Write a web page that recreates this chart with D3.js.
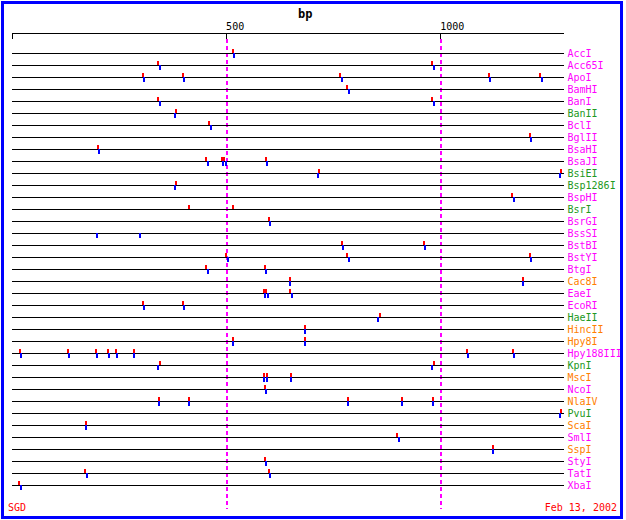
<!DOCTYPE html>
<html>
<head>
<meta charset="utf-8">
<script src="https://cdn.jsdelivr.net/npm/d3@7"></script>
<style>
  html, body { margin: 0; padding: 0; background: #fff; }
  svg { display: block; }
  text { font-family: "DejaVu Sans Mono", "Liberation Mono", monospace; }
</style>
</head>
<body>
<svg id="chart" width="626" height="520"></svg>
<script>
// ---- data ----
const seqLength = 1289;
const axisTicks = [500, 1000];
const axisTitle = "bp";
const footLeft = "SGD";
const footRight = "Feb 13, 2002";

const enzymes = ["AccI","Acc65I","ApoI","BamHI","BanI","BanII","BclI","BglII","BsaHI","BsaJI",
  "BsiEI","Bsp1286I","BspHI","BsrI","BsrGI","BssSI","BstBI","BstYI","BtgI","Cac8I",
  "EaeI","EcoRI","HaeII","HincII","Hpy8I","Hpy188III","KpnI","MscI","NcoI","NlaIV",
  "PvuI","ScaI","SmlI","SspI","StyI","TatI","XbaI"];

// end type produced by each enzyme (label colour category)
const endTypes = ["5'","5'","5'","5'","5'","3'","5'","5'","5'","5'",
  "3'","3'","5'","3'","5'","5'","5'","5'","5'","blunt",
  "5'","5'","3'","blunt","blunt","5'","3'","blunt","5'","blunt",
  "3'","blunt","5'","blunt","5'","5'","5'"];

// cut positions per enzyme: [top-strand cut, bottom-strand cut] in bp
const cuts = [
  [[515,517]],
  [[340,344],[980,984]],
  [[305,307],[398,400],[765,770],[1113,1115],[1232,1237]],
  [[781,786]],
  [[340,344],[980,984]],
  [[382,380]],
  [[459,463]],
  [[1209,1211]],
  [[200,202]],
  [[452,457],[489,491],[494,498],[592,594]],
  [[716,713],[1281,1279]],
  [[382,380]],
  [[1167,1171]],
  [[412,null],[515,null]],
  [[599,601]],
  [[null,197],[null,298]],
  [[770,772],[961,963]],
  [[498,503],[781,786],[1209,1211]],
  [[452,457],[590,592]],
  [[648,648],[1192,1192]],
  [[587,590],[592,597],[648,653]],
  [[305,307],[398,400]],
  [[858,854]],
  [[683,683]],
  [[515,515],[683,683]],
  [[18,20],[130,132],[195,197],[223,225],[242,244],[284,284],[1062,1064],[1169,1171]],
  [[344,340],[984,980]],
  [[587,587],[594,594],[650,650]],
  [[590,592]],
  [[342,342],[412,412],[784,784],[910,910],[982,982]],
  [[1281,1279]],
  [[172,172]],
  [[898,903]],
  [[1122,1122]],
  [[590,592]],
  [[169,174],[599,601]],
  [[15,20]]
];

// ---- drawing ----
const svg = d3.select("#chart");
const W = 626, H = 520;

svg.append("rect").attr("x",0).attr("y",0).attr("width",W).attr("height",H).attr("fill","#fff");

const x = d3.scaleLinear().domain([0, seqLength]).range([12, 564]);
const y = d3.scalePoint().domain(enzymes).range([53, 485]);
const colour = d3.scaleOrdinal().domain(["5'","3'","blunt"]).range(["#ff00ff","#229922","#ff8000"]);

// dashed guide lines
svg.append("g").selectAll("line").data(axisTicks).join("line")
  .attr("x1", d => Math.floor(x(d)) + 1).attr("x2", d => Math.floor(x(d)) + 1)
  .attr("y1", 39).attr("y2", 509)
  .attr("stroke", "#ff00ff").attr("stroke-width", 2)
  .attr("stroke-dasharray", "4,3");

// axis
const axis = d3.axisBottom(x)
  .tickValues([1].concat(axisTicks))
  .tickFormat(d => d === 1 ? "" : d)
  .tickSize(6).tickSizeOuter(0);
const ag = svg.append("g").attr("transform", "translate(0,33)").call(axis);
ag.select(".domain").attr("stroke", "#000").attr("shape-rendering", "crispEdges")
  .attr("d", `M${x(1)+0.5},0.5H${x(seqLength)}`);
ag.selectAll(".tick line").attr("stroke", "#000").attr("shape-rendering", "crispEdges");
ag.selectAll(".tick text")
  .attr("y", -3).attr("dy", 0).attr("x", -0.5)
  .attr("text-anchor", "start")
  .attr("font-size", 10)
  .attr("font-family", "DejaVu Sans Mono")
  .attr("fill", "#000");

svg.append("text").attr("x", 298).attr("y", 17.5)
  .attr("font-size", 12).attr("font-weight", "bold").attr("fill", "#000")
  .text(axisTitle);

// enzyme rows
const rows = svg.append("g").selectAll("g").data(enzymes).join("g")
  .attr("transform", d => `translate(0,${y(d)})`);

rows.each(function(name, i) {
  const g = d3.select(this);
  const c = cuts[i];
  g.selectAll("rect.top").data(c.filter(p => p[0] !== null)).join("rect")
    .attr("class", "top")
    .attr("x", p => Math.floor(x(p[0]))).attr("y", -4)
    .attr("width", 2).attr("height", 4).attr("fill", "#ff0000");
  g.append("line")
    .attr("x1", x(1)).attr("x2", x(seqLength))
    .attr("y1", 0.5).attr("y2", 0.5)
    .attr("stroke", "#000").attr("stroke-width", 1)
    .attr("shape-rendering", "crispEdges");
  g.selectAll("rect.bot").data(c.filter(p => p[1] !== null)).join("rect")
    .attr("class", "bot")
    .attr("x", p => Math.floor(x(p[1]))).attr("y", 0)
    .attr("width", 2).attr("height", 5).attr("fill", "#0000ff");
  g.append("text")
    .attr("x", 567.5).attr("y", 4)
    .attr("font-size", 10)
    .attr("fill", colour(endTypes[i]))
    .text(name);
});

// footer
svg.append("text").attr("x", 8).attr("y", 511).attr("font-size", 10)
  .attr("fill", "#ff0000").text(footLeft);
svg.append("text").attr("x", 617).attr("y", 511).attr("font-size", 10)
  .attr("text-anchor", "end").attr("fill", "#ff0000").text(footRight);

// border
svg.append("rect").attr("x", 2.5).attr("y", 2.5).attr("width", 619).attr("height", 515)
  .attr("fill", "none").attr("stroke", "#0000ff").attr("stroke-width", 3);
</script>
</body>
</html>
